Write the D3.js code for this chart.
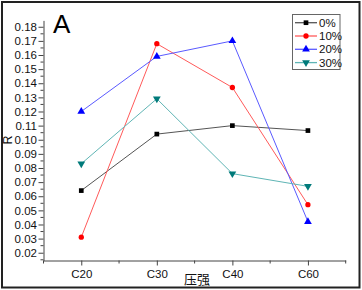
<!DOCTYPE html>
<html><head><meta charset="utf-8">
<script src="https://cdn.jsdelivr.net/npm/d3@7"></script>
<style>html,body{margin:0;padding:0;background:#fff;}svg{display:block;font-family:Arial,"Liberation Sans",sans-serif;}</style>
</head><body>
<script>
const categories = ["C20", "C30", "C40", "C60"];
const seriesNames = ["0%", "10%", "20%", "30%"];
const s0 = [0.064, 0.104, 0.110, 0.1065];
const s10 = [0.031, 0.168, 0.137, 0.054];
const s20 = [0.120, 0.159, 0.170, 0.042];
const s30 = [0.083, 0.129, 0.076, 0.067];
const yTicks = [0.02,0.03,0.04,0.05,0.06,0.07,0.08,0.09,0.10,0.11,0.12,0.13,0.14,0.15,0.16,0.17,0.18];

const W = 362, H = 290;
const svg = d3.select("body").append("svg").attr("width", W).attr("height", H);

svg.append("rect").attr("x", 2).attr("y", 2).attr("width", 357.5).attr("height", 285.5)
  .attr("fill", "#fff").attr("stroke", "#222").attr("stroke-width", 2);

const x = d3.scaleLinear().domain([0.5, 4.5]).range([43.5, 345.7]);
const y = d3.scaleLinear().domain([0.0145, 0.1845]).range([260.5, 20.4]);
const axisColor = "#444";

// Y axis
const yAxis = d3.axisLeft(y).tickValues(yTicks).tickFormat(d3.format(".2f")).tickSize(5).tickSizeOuter(0);
const gy = svg.append("g").attr("transform", `translate(${x.range()[0]},0)`).call(yAxis);
const yMinor = d3.range(0.015, 0.185, 0.01);
gy.selectAll(".minor").data(yMinor).enter().append("line").attr("class","minor")
  .attr("x1", 0).attr("x2", -3).attr("y1", d => y(d)).attr("y2", d => y(d)).attr("stroke", axisColor);
// X axis
const xAxis = d3.axisBottom(x).tickValues([1,2,3,4]).tickFormat((d,i) => categories[i]).tickSize(5).tickSizeOuter(0);
const gx = svg.append("g").attr("transform", `translate(0,${y.range()[0]})`).call(xAxis);
gx.selectAll(".minor").data([0.5,1.5,2.5,3.5,4.5]).enter().append("line").attr("class","minor")
  .attr("x1", d => x(d)).attr("x2", d => x(d)).attr("y1", 0).attr("y2", 3).attr("stroke", axisColor);

[gx, gy].forEach(g => {
  g.select(".domain").attr("stroke", axisColor);
  g.selectAll(".tick line").attr("stroke", axisColor);
  g.selectAll(".tick text").attr("fill", "#111").attr("font-size", 11.5).attr("font-family", "Arial, 'Liberation Sans', sans-serif");
});
gy.selectAll(".tick text").attr("x", -6.5);
gx.selectAll(".tick text").attr("y", 9);

// Series
const series = [
  {name: seriesNames[0], vals: s0, color: "#000000", line: "#555555", sym: d3.symbolSquare, size: 22, rot: 0},
  {name: seriesNames[1], vals: s10, color: "#ff0000", line: "#ff5a5a", sym: d3.symbolCircle, size: 22, rot: 0},
  {name: seriesNames[2], vals: s20, color: "#0000ff", line: "#5a5aff", sym: d3.symbolTriangle, size: 26, rot: 0},
  {name: seriesNames[3], vals: s30, color: "#007a7a", line: "#5fb5b5", sym: d3.symbolTriangle, size: 26, rot: 180},
];
const line = d3.line().x((d,i) => x(i+1)).y(d => y(d));
series.forEach(s => {
  svg.append("path").datum(s.vals).attr("d", line).attr("fill", "none")
    .attr("stroke", s.line).attr("stroke-width", 1);
});
series.forEach(s => {
  svg.selectAll(null).data(s.vals).enter().append("path")
    .attr("d", d3.symbol().type(s.sym).size(s.size))
    .attr("transform", (d,i) => `translate(${x(i+1)},${y(d)}) rotate(${s.rot})`)
    .attr("fill", s.color);
});

// Labels
svg.append("text").attr("x", 53).attr("y", 33).attr("font-size", 26).attr("fill", "#000").text("A");
svg.append("text").attr("transform", "translate(12,140) rotate(-90)").attr("text-anchor", "middle")
  .attr("font-size", 12.5).attr("fill", "#111").text("R");
svg.append("text").attr("x", 197).attr("y", 284).attr("text-anchor", "middle")
  .attr("font-size", 13).attr("font-family", "'Noto Sans CJK SC', sans-serif").attr("fill", "#111").text("压强");

// Legend
const lg = svg.append("g");
lg.append("rect").attr("x", 292.5).attr("y", 14.5).attr("width", 47.5).attr("height", 55)
  .attr("fill", "#fff").attr("stroke", "#666").attr("stroke-width", 1);
series.forEach((s, i) => {
  const yy = 22.7 + i * 13.3;
  lg.append("line").attr("x1", 295).attr("x2", 317).attr("y1", yy).attr("y2", yy)
    .attr("stroke", s.line).attr("stroke-width", 1.3);
  lg.append("path").attr("d", d3.symbol().type(s.sym).size(s.size))
    .attr("transform", `translate(306,${yy}) rotate(${s.rot})`).attr("fill", s.color);
  lg.append("text").attr("x", 319).attr("y", yy + 4).attr("font-size", 11.5).attr("fill", "#111").text(s.name);
});
</script>
</body></html>
